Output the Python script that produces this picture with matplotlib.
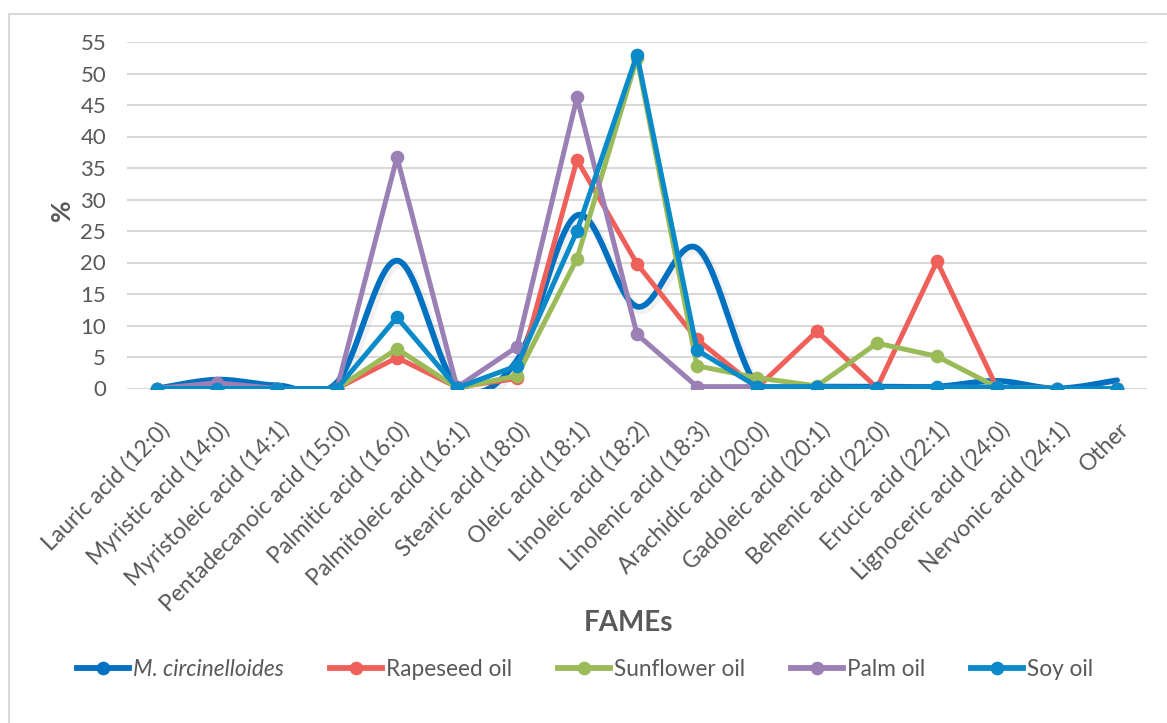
import numpy as np
import matplotlib
matplotlib.use("Agg")
import matplotlib.pyplot as plt
import matplotlib.patheffects as pe
import matplotlib.transforms as mtransforms
from matplotlib.lines import Line2D
from matplotlib.patches import Rectangle

plt.rcParams['font.family'] = ['Lato', 'DejaVu Sans']

# FAMEs categories
fames = ["Lauric acid (12:0)", "Myristic acid (14:0)", "Myristoleic acid (14:1)",
         "Pentadecanoic acid (15:0)", "Palmitic acid (16:0)", "Palmitoleic acid (16:1)",
         "Stearic acid (18:0)", "Oleic acid (18:1)", "Linoleic acid (18:2)",
         "Linolenic acid (18:3)", "Arachidic acid (20:0)", "Gadoleic acid (20:1)",
         "Behenic acid (22:0)", "Erucic acid (22:1)", "Lignoceric acid (24:0)",
         "Nervonic acid (24:1)", "Other"]

# % of total fatty acids
m_circ = [0.0, 1.4, 0.5, 1.0, 20.3, 0.5, 4.5, 27.5, 13.0, 22.3, 0.5, 0.3, 0.3, 0.3, 1.2, 0.0, 1.3]
rapeseed = [0.0, 0.0, 0.0, 0.0, 4.9, 0.2, 1.6, 36.3, 19.8, 7.8, 0.1, 9.1, 0.1, 20.2, 0.1, 0.0, 0.0]
sunflower = [0.0, 0.0, 0.0, 0.0, 6.3, 0.1, 2.0, 20.6, 52.5, 3.6, 1.7, 0.4, 7.2, 5.1, 0.2, 0.0, 0.0]
palm = [0.0, 0.9, 0.0, 0.0, 36.7, 0.2, 6.6, 46.2, 8.6, 0.3, 0.3, 0.2, 0.1, 0.0, 0.1, 0.0, 0.0]
soy = [0.0, 0.0, 0.0, 0.0, 11.3, 0.1, 3.6, 25.0, 53.0, 6.1, 0.3, 0.3, 0.1, 0.3, 0.2, 0.0, 0.0]

grey = "#595959"
grid_c = "#D9D9D9"


# smoothed line like Excel (cardinal/Catmull-Rom bezier through the points)
def smooth(x, y, steps=30):
    x = np.asarray(x, float)
    y = np.asarray(y, float)
    n = len(x)
    xs, ys = [], []
    t = np.linspace(0, 1, steps)
    for i in range(n - 1):
        i0 = max(i - 1, 0)
        i3 = min(i + 2, n - 1)
        p0 = np.array([x[i], y[i]])
        p3 = np.array([x[i + 1], y[i + 1]])
        p1 = p0 + (np.array([x[i + 1] - x[i0], y[i + 1] - y[i0]])) / 6
        p2 = p3 - (np.array([x[i3] - x[i], y[i3] - y[i]])) / 6
        b = ((1 - t) ** 3)[:, None] * p0 + (3 * (1 - t) ** 2 * t)[:, None] * p1 \
            + (3 * (1 - t) * t ** 2)[:, None] * p2 + (t ** 3)[:, None] * p3
        xs.extend(b[:, 0])
        ys.extend(b[:, 1])
    return np.array(xs), np.array(ys)


fig = plt.figure(figsize=(11.67, 7.23), dpi=100)
ax = fig.add_axes([127 / 1167, 1 - 388.5 / 723, 1020 / 1167, 346.5 / 723])

x = np.arange(len(fames))

shadow = [pe.SimpleLineShadow(offset=(1.5, -2), shadow_color="#909090", alpha=0.12, linewidth=7),
          pe.Normal()]

sx, sy = smooth(x, m_circ)
ax.plot(sx, sy, color="#0070C0", lw=4.2, solid_capstyle="round", zorder=2, path_effects=shadow)

series = [(rapeseed, "#F0605A"), (sunflower, "#9BBB59"), (palm, "#9B80B5"), (soy, "#0A8AC9")]
for k, (vals, col) in enumerate(series):
    ax.plot(x, vals, color=col, lw=3.6, marker="o", ms=8.8, zorder=3 + k,
            solid_joinstyle="round", solid_capstyle="round")

ax.set_xlim(-0.5, len(fames) - 0.5)
ax.set_ylim(0, 55)
ax.set_yticks(np.arange(0, 56, 5))
ax.grid(axis="y", color=grid_c, lw=1.5)
ax.set_axisbelow(True)
for s in ax.spines.values():
    s.set_visible(False)
ax.tick_params(axis="both", length=0, colors=grey)
ax.tick_params(axis="y", labelsize=16, pad=15)
ax.set_xticks(x)
ax.set_xticklabels(fames, rotation=45, ha="right", va="center", rotation_mode="anchor", fontsize=16.5)
ax.tick_params(axis="x", pad=27)
shift = mtransforms.ScaledTranslation(9 / 100, 0, fig.dpi_scale_trans)
for lab in ax.get_xticklabels():
    lab.set_transform(lab.get_transform() + shift)

fig.text(62 / 1167, 1 - 210 / 723, "%", rotation=90, ha="center", va="center",
         fontsize=19, fontweight="bold", color=grey)
fig.text(629 / 1167, 1 - 623 / 723, "FAMEs", ha="center", va="center",
         fontsize=20, fontweight="bold", color=grey)

names = ["M. circinelloides", "Rapeseed oil", "Sunflower oil", "Palm oil", "Soy oil"]
colors = ["#0070C0", "#F0605A", "#9BBB59", "#9B80B5", "#0A8AC9"]
handles = [Line2D([], [], color=c, lw=4.2, marker="o", ms=8.8) for c in colors]
fs = 16.3
leg = fig.legend(handles, names, loc="center", bbox_to_anchor=(585 / 1167, 1 - 669 / 723),
                 ncol=5, frameon=False, fontsize=fs, handlelength=52 / (fs / 0.72),
                 handletextpad=4 / (fs / 0.72), columnspacing=46 / (fs / 0.72))
for t in leg.get_texts():
    t.set_color(grey)
leg.get_texts()[0].set_style("italic")

# chart area border
fig.patches.append(Rectangle((9 / 1167, -0.05), 1.1, 1 - 14 / 723 + 0.05, transform=fig.transFigure,
                             fill=False, ec=grid_c, lw=1.5))

fig.savefig("out.png", dpi=100)
